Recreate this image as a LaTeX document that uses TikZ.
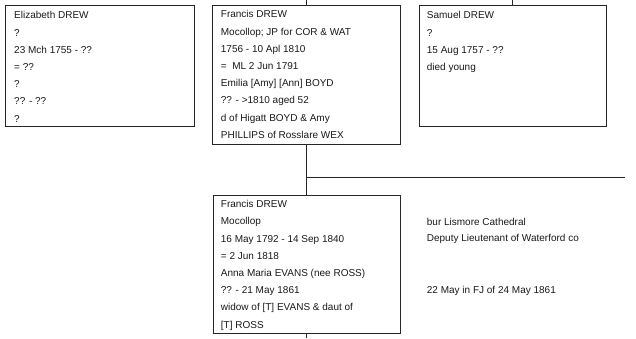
\documentclass[tikz,border=0pt]{standalone}
\usepackage{fontspec}
\setmainfont{Liberation Sans}
\begin{document}
\begin{tikzpicture}[x=1pt,y=-1pt,
  personbox/.style={draw=black!85,line width=1pt,rectangle,inner sep=0pt,anchor=north west},
  boxtext/.style={anchor=north west,inner sep=0pt,align=left,font=\fontsize{10}{17.2}\selectfont,text=black!90},
  note/.style={anchor=west,inner sep=0pt,font=\fontsize{10}{17.2}\selectfont,text=black!90},
  link/.style={draw=black!85,line width=1pt}]
\useasboundingbox (0,0) rectangle (636,338);
% boxes
\node[personbox,minimum width=188.5pt,minimum height=121pt] (eliz) at (5,4.5) {};
\node[personbox,minimum width=187.5pt,minimum height=139pt] (fran) at (212,4.5) {};
\node[personbox,minimum width=187.5pt,minimum height=121pt] (sam) at (418.5,4.5) {};
\node[personbox,minimum width=187pt,minimum height=138.5pt] (franjr) at (212.5,194.5) {};
% texts
\node[boxtext] (elizt) at (14,11.5) {Elizabeth DREW\\?\\23 Mch 1755 - ??\\= ??\\?\\?? - ??\\?};
\node[boxtext] (frant) at (220.7,10.5) {Francis DREW\\Mocollop; JP for COR \& WAT\\1756 - 10 Apl 1810\\=\ \ ML 2 Jun 1791\\Emilia [Amy] [Ann] BOYD\\?? - >1810 aged 52\\d of Higatt BOYD \& Amy\\PHILLIPS of Rosslare WEX};
\node[boxtext] (samt) at (426.7,11.5) {Samuel DREW\\?\\15 Aug 1757 - ??\\died young};
\node[boxtext] (franjrt) at (220.7,200.3) {Francis DREW\\Mocollop\\16 May 1792 - 14 Sep 1840\\= 2 Jun 1818\\Anna Maria EVANS (nee ROSS)\\?? - 21 May 1861\\widow of [T] EVANS \& daut of\\{}[T] ROSS};
% notes
\node[note] (n1) at (426.7,221.5) {bur Lismore Cathedral};
\node[note] (n2) at (426.7,239) {Deputy Lieutenant of Waterford co};
\node[note] (n3) at (426.7,291) {22 May in FJ of 24 May 1861};
% connectors
\coordinate (topf) at (306,0);
\coordinate (tops) at (512,0);
\coordinate (bot) at (306,338);
\coordinate (branch) at (306,177.5);
\coordinate (branchend) at (625,177.5);
\draw[link] (topf) -- (fran.north -| topf);
\draw[link] (tops) -- (sam.north -| tops);
\draw[link] (fran.south -| branch) -- (franjr.north -| branch);
\draw[link,line width=1.5pt] (branch) -- (branchend);
\draw[link] (franjr.south -| bot) -- (bot);
\end{tikzpicture}
\end{document}
